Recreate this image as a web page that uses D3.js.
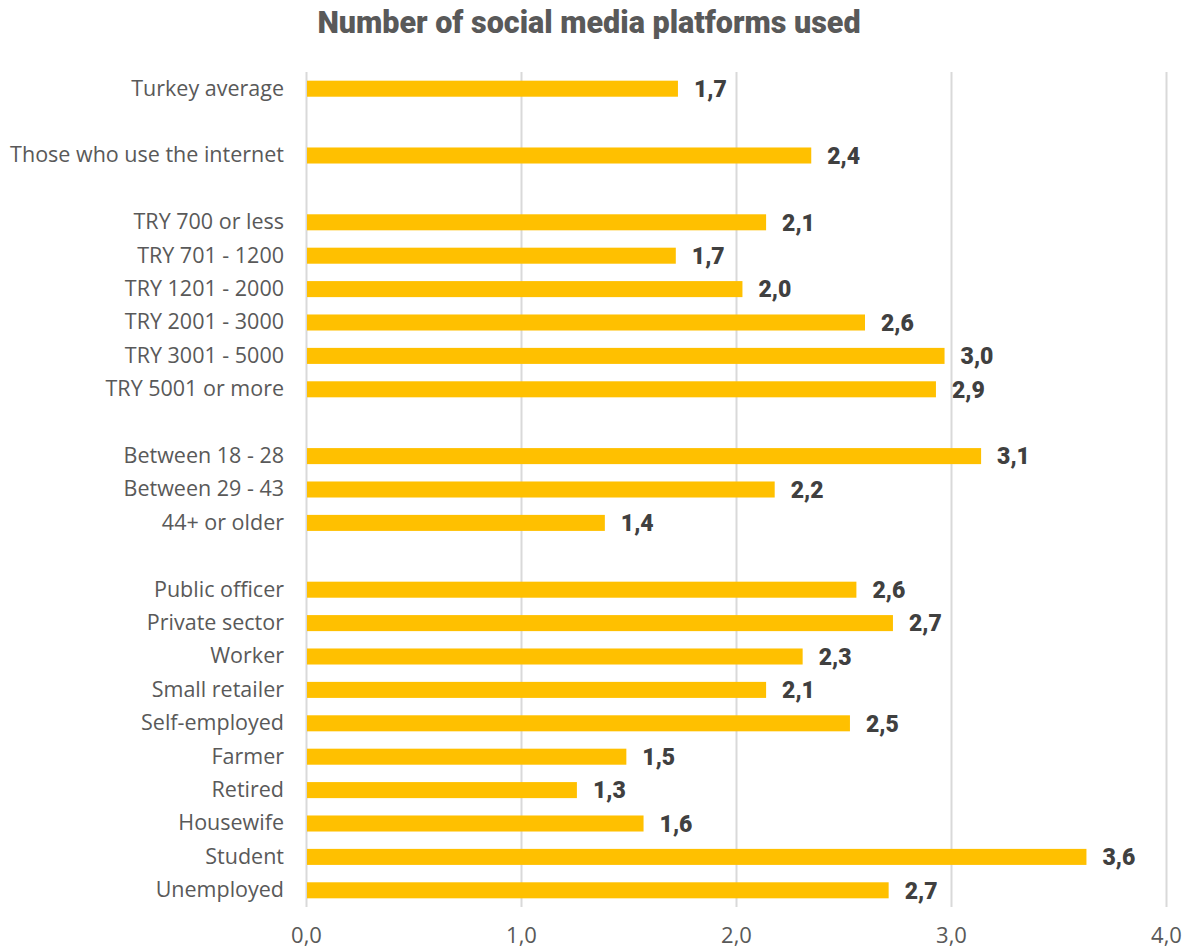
<!DOCTYPE html>
<html>
<head>
<meta charset="utf-8">
<script src="https://cdn.jsdelivr.net/npm/d3@7"></script>
<style>
  html, body { margin: 0; padding: 0; background: #ffffff; }
  svg { display: block; }
</style>
</head>
<body>
<div id="chart"></div>
<script>
// Row labels, top to bottom; empty strings are the spacer rows between groups
const categories = [
  "Turkey average", "",
  "Those who use the internet", "",
  "TRY 700 or less", "TRY 701 - 1200", "TRY 1201 - 2000",
  "TRY 2001 - 3000", "TRY 3001 - 5000", "TRY 5001 or more", "",
  "Between 18 - 28", "Between 29 - 43", "44+ or older", "",
  "Public officer", "Private sector", "Worker", "Small retailer",
  "Self-employed", "Farmer", "Retired", "Housewife", "Student", "Unemployed"
];
// Average number of platforms (null for spacer rows)
const values = [
  1.73, null,
  2.35, null,
  2.14, 1.72, 2.03, 2.60, 2.97, 2.93, null,
  3.14, 2.18, 1.39, null,
  2.56, 2.73, 2.31, 2.14, 2.53, 1.49, 1.26, 1.57, 3.63, 2.71
];
const xTicks = [0, 1, 2, 3, 4];
const title = "Number of social media platforms used";

const width = 1197, height = 949;
const margin = { top: 72, right: 31, bottom: 42, left: 306 };

const rows = categories.map((c, i) => ({ key: "r" + i, label: c, value: values[i] }));

const svg = d3.select("#chart").append("svg")
  .attr("width", width).attr("height", height);

const x = d3.scaleLinear().domain([0, 4]).range([margin.left, width - margin.right]);
const y = d3.scaleBand().domain(rows.map(d => d.key))
  .range([margin.top, height - margin.bottom])
  .paddingInner(0.52).paddingOuter(0.26);

const fmt = v => d3.format(".1f")(v).replace(".", ",");
const heavy = "Roboto, 'DejaVu Sans', sans-serif";
const book = "'Open Sans', Lato, sans-serif";

// Title
svg.append("text")
  .attr("x", 589).attr("y", 33)
  .attr("text-anchor", "middle")
  .attr("font-family", heavy)
  .attr("font-weight", 900)
  .attr("font-size", 30.5)
  .attr("fill", "#595959")
  .text(title);

// Vertical gridlines and value ticks
const grid = svg.append("g")
  .attr("transform", `translate(0,${height - margin.bottom})`)
  .call(d3.axisBottom(x).tickValues(xTicks)
    .tickSize(-(height - margin.bottom - margin.top))
    .tickFormat(fmt));
grid.select(".domain").remove();
grid.selectAll(".tick line").attr("stroke", "#d9d9d9").attr("stroke-width", 2);
grid.selectAll(".tick text")
  .attr("dy", 0)
  .attr("y", 36)
  .attr("font-family", book)
  .attr("font-size", 22)
  .attr("fill", "#595959");

// Bars
const data = rows.filter(d => d.value != null);
svg.append("g").selectAll("rect")
  .data(data).join("rect")
  .attr("x", x(0) + 1)
  .attr("y", d => y(d.key))
  .attr("width", d => x(d.value) - x(0) - 1)
  .attr("height", y.bandwidth())
  .attr("fill", "#FFC000");

// Value labels
svg.append("g").selectAll("text")
  .data(data).join("text")
  .attr("x", d => x(d.value) + 16)
  .attr("y", d => y(d.key) + y.bandwidth() / 2)
  .attr("dy", "0.36em")
  .attr("font-family", heavy)
  .attr("font-weight", 900)
  .attr("font-size", 23)
  .attr("fill", "#404040")
  .text(d => fmt(d.value));

// Category labels
const yAxis = svg.append("g")
  .attr("transform", `translate(${margin.left},0)`)
  .call(d3.axisLeft(y).tickSize(0).tickPadding(22)
    .tickFormat(k => rows.find(r => r.key === k).label));
yAxis.select(".domain").remove();
yAxis.selectAll(".tick text")
  .attr("font-family", book)
  .attr("font-size", 21.5)
  .attr("fill", "#595959");
</script>
</body>
</html>
